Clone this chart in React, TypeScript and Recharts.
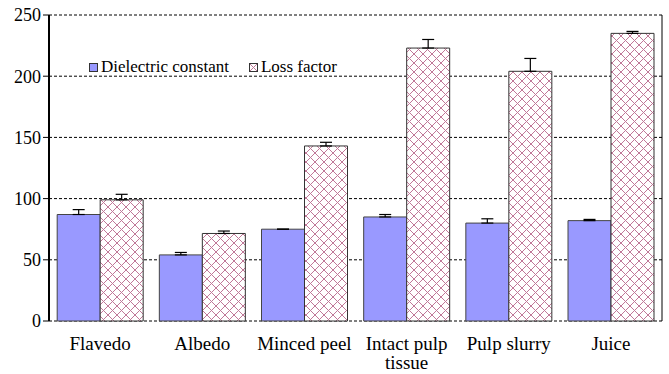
import React, { useLayoutEffect, useRef } from "react";
import {
  BarChart,
  Bar,
  XAxis,
  YAxis,
  CartesianGrid,
  ErrorBar,
  Legend,
} from "recharts";

const categories = ["Flavedo", "Albedo", "Minced peel", "Intact pulp\ntissue", "Pulp slurry", "Juice"];
const dielectric = [87, 54, 75, 85, 80, 82];
const dielectricErr = [4, 2, 0, 2, 3.5, 1];
const lossFactor = [99, 71.5, 143, 223, 204, 235];
const lossFactorErr = [4.5, 2, 3, 7, 10.5, 1.6];
const yTicks = [0, 50, 100, 150, 200, 250];
const boundaryTicks = [0, 1, 2, 3, 4, 5, 6];

const data = categories.map((name, i) => ({
  name,
  dc: dielectric[i],
  dcErr: [0, dielectricErr[i]],
  lf: lossFactor[i],
  lfErr: [0, lossFactorErr[i]],
}));

const FONT = '"Liberation Serif", Times';
const BLUE = "#9999ff";
const HATCH = "#c07898";

const CatTick = (props: any) => {
  const { x, y, payload } = props;
  const lines = String(payload.value).split("\n");
  return (
    <text x={x} y={y + 8} textAnchor="middle" fill="#000" fontFamily={FONT} fontSize={19} style={{ fontFamily: FONT }}>
      {lines.map((l, i) => (
        <tspan key={i} x={x} dy={i === 0 ? "0.71em" : 19}>
          {l}
        </tspan>
      ))}
    </text>
  );
};

const YTick = (props: any) => {
  const { x, y, payload } = props;
  return (
    <text x={x} y={y} dy="0.35em" textAnchor="end" fill="#000" fontFamily={FONT} fontSize={18} style={{ fontFamily: FONT }}>
      {payload.value}
    </text>
  );
};

const LegendContent = () => (
  <div style={{ display: "flex", alignItems: "center", fontFamily: FONT, fontSize: 17, color: "#000", whiteSpace: "nowrap" }}>
    <svg width={9} height={9} style={{ marginRight: 3 }}>
      <rect x={0.5} y={0.5} width={8} height={8} fill={BLUE} stroke="#333" />
    </svg>
    <span style={{ marginRight: 20 }}>Dielectric constant</span>
    <svg width={9} height={9} style={{ marginRight: 3 }}>
      <rect x={0.5} y={0.5} width={8} height={8} fill="url(#hatch)" stroke="#333" />
    </svg>
    <span>Loss factor</span>
  </div>
);

export default function App() {
  const ref = useRef<HTMLDivElement>(null);
  useLayoutEffect(() => {
    const apply = () => {
      const root = ref.current;
      if (!root) return;
      root.querySelectorAll("text, tspan, span, div").forEach((el: any) => {
        el.style.setProperty("font-family", FONT, "important");
      });
    };
    apply();
    const t = setTimeout(apply, 0);
    const t2 = setTimeout(apply, 100);
    return () => {
      clearTimeout(t);
      clearTimeout(t2);
    };
  });
  return (
    <div ref={ref} style={{ position: "absolute", left: 0, top: 0, width: 669, height: 374, background: "#fff", fontFamily: FONT }}>
      <svg width={0} height={0} style={{ position: "absolute" }}>
        <defs>
          <pattern id="hatch" patternUnits="userSpaceOnUse" width={9} height={9}>
            <rect width={9} height={9} fill="#fff" />
            <path d="M0,0 L9,9 M9,0 L0,9" stroke={HATCH} strokeWidth={1} />
          </pattern>
        </defs>
      </svg>
      <BarChart
        width={669}
        height={374}
        data={data}
        margin={{ top: 15, right: 0, bottom: 0, left: 0 }}
        barCategoryGap="8%"
        barGap={0}
      >
        <CartesianGrid
          horizontal
          vertical={false}
          stroke="#000"
          strokeDasharray="3 2"
          xAxisId="cat"
        />
        <XAxis
          xAxisId="b"
          type="number"
          domain={[0, 6]}
          ticks={boundaryTicks}
          allowDataOverflow
          height={0}
          tick={false}
          tickSize={5}
          tickLine={{ stroke: "#000" }}
          axisLine={{ stroke: "#000", strokeWidth: 2 }}
        />
        <XAxis
          xAxisId="cat"
          dataKey="name"
          height={53}
          tickLine={false}
          axisLine={false}
          interval={0}
          tick={<CatTick />}
        />
        <YAxis
          width={49}
          domain={[0, 250]}
          ticks={yTicks}
          tickSize={6}
          tickLine={{ stroke: "#000" }}
          axisLine={{ stroke: "#000", strokeWidth: 2 }}
          tick={<YTick />}
          interval={0}
        />
        <YAxis
          yAxisId="r"
          orientation="right"
          width={7}
          tick={false}
          tickLine={false}
          axisLine={{ stroke: "#000", strokeWidth: 1 }}
        />
        <Legend
          layout="horizontal"
          verticalAlign="middle"
          align="center"
          wrapperStyle={{ position: "absolute", top: 57, left: 89, width: 300, height: 20 }}
          content={<LegendContent />}
        />
        <Bar xAxisId="cat" dataKey="dc" name="Dielectric constant" fill={BLUE} stroke="#444" strokeWidth={1} isAnimationActive={false}>
          <ErrorBar dataKey="dcErr" width={6} stroke="#000" strokeWidth={1.2} direction="y" />
        </Bar>
        <Bar xAxisId="cat" dataKey="lf" name="Loss factor" fill="url(#hatch)" stroke="#333" strokeWidth={1} isAnimationActive={false}>
          <ErrorBar dataKey="lfErr" width={6} stroke="#000" strokeWidth={1.2} direction="y" />
        </Bar>
      </BarChart>
    </div>
  );
}
